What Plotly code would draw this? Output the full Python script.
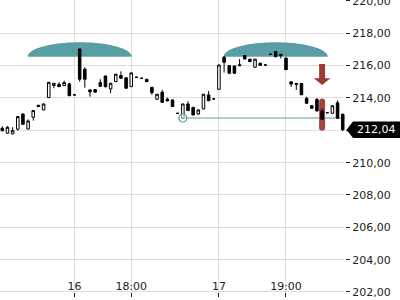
import numpy as np
import plotly.graph_objects as go

# ---------------- data ----------------
idx = list(range(1, 68))
opens = [212.13, 211.82, 211.78, 212.07, 213.01, 212.08, 212.81, 213.55, 213.26, 214.02,
         214.77, 214.85, 214.76, 214.87, 214.19, 217.03, 215.78, 214.50, 214.52, 214.95,
         215.36, 214.56, 215.01, 215.39, 215.25, 214.70, 215.28, 215.22, 215.16, 214.66,
         213.92, 214.36, 213.92, 213.88, 213.05, 212.75, 213.63, 213.42, 213.01, 213.32,
         214.19, 213.94, 214.54, 216.52, 216.00, 215.98, 216.05, 216.62, 216.40, 215.90,
         216.15, 216.04, 216.70, 216.87, 216.70, 216.47, 215.00, 214.90, 214.90, 213.98,
         213.52, 213.90, 213.20, 213.09, 213.05, 213.70, 213.00]
highs = [212.25, 212.26, 212.19, 212.87, 213.03, 212.68, 213.24, 213.56, 213.65, 214.98,
         214.92, 214.97, 215.07, 214.95, 214.20, 217.05, 215.90, 214.52, 214.55, 215.16,
         215.38, 214.92, 215.49, 215.65, 215.28, 215.57, 215.29, 215.23, 215.17, 214.68,
         214.25, 214.50, 214.02, 213.90, 213.06, 213.65, 213.80, 213.44, 213.28, 214.25,
         214.43, 213.95, 216.06, 216.60, 216.02, 216.00, 216.40, 216.65, 216.42, 216.42,
         216.17, 216.05, 216.71, 216.88, 216.72, 216.50, 215.02, 214.92, 214.92, 214.08,
         213.55, 214.00, 213.36, 213.10, 213.54, 213.85, 213.02]
lows = [211.92, 211.80, 211.76, 211.98, 212.35, 212.06, 212.60, 213.45, 213.25, 214.00,
        214.60, 214.69, 214.75, 214.12, 214.18, 215.01, 214.64, 214.08, 214.33, 214.68,
        214.65, 214.29, 214.99, 215.20, 214.58, 214.68, 215.27, 215.21, 215.00, 214.19,
        213.90, 213.72, 213.80, 213.45, 213.04, 212.70, 213.20, 212.93, 212.95, 213.30,
        213.82, 213.93, 214.52, 215.57, 215.50, 215.50, 215.98, 216.40, 216.22, 215.88,
        216.00, 216.03, 216.69, 216.50, 216.45, 215.73, 214.70, 214.50, 214.18, 213.65,
        213.34, 213.15, 212.66, 213.08, 213.03, 212.72, 211.96]
closes = [211.98, 212.19, 211.98, 212.85, 212.37, 212.58, 213.22, 213.47, 213.63, 214.97,
          214.91, 214.70, 214.95, 214.14, 214.19, 215.16, 215.16, 214.38, 214.36, 214.72,
          214.70, 214.91, 215.47, 215.22, 214.60, 215.55, 215.28, 215.22, 215.01, 214.33,
          214.23, 213.73, 213.82, 213.47, 213.05, 213.63, 213.22, 212.95, 213.26, 214.23,
          213.83, 213.94, 216.04, 216.21, 215.53, 215.53, 216.00, 216.41, 216.25, 216.40,
          216.02, 216.04, 216.70, 216.56, 216.62, 215.75, 214.86, 214.85, 214.20, 213.67,
          213.36, 213.20, 212.68, 213.09, 213.52, 212.75, 212.04]

x_tick_idx = [15, 26, 43, 56]
x_tick_text = ["16", "18:00", "17", "19:00"]
y_ticks = [202, 204, 206, 208, 210, 212, 214, 216, 218, 220]

# pattern annotation values (double top)
peak_idx = [16, 54]
dome_base = 216.555
dome_height = 0.89
dome_halfwidth = 10.08
neck_idx = 36
neck_level = 212.76
signal_idx = 63
arrow_levels = [216.10, 215.22, 214.81]
bar_levels = [213.96, 211.98]
last_price = closes[-1]

# ---------------- styles ----------------
TEAL = "#5a9ea5"
RED = "#9c3b36"
GRID = "#dedede"
TXT = "#222222"
FONT = "DejaVu Sans"
x_range = [0.554, 67.44]
y_range = [201.69, 220.06]

fig = go.Figure()

fig.add_trace(go.Candlestick(
    x=idx, open=opens, high=highs, low=lows, close=closes,
    increasing=dict(line=dict(color="black", width=1), fillcolor="white"),
    decreasing=dict(line=dict(color="black", width=1), fillcolor="black"),
    whiskerwidth=0, hoverinfo="skip", showlegend=False,
))

fig.add_trace(go.Scatter(
    x=[neck_idx], y=[neck_level], mode="markers",
    marker=dict(symbol="circle", size=8, color="rgba(255,255,255,0.5)",
                line=dict(color=TEAL, width=1.2)),
    hoverinfo="skip", showlegend=False,
))

shapes = []
# domes
for cx in peak_idx:
    t = np.linspace(np.pi, 0, 80)
    xs = cx + dome_halfwidth * np.cos(t)
    ys = dome_base + dome_height * np.sin(t)
    path = "M " + " L ".join(f"{a:.4f},{b:.4f}" for a, b in zip(xs, ys)) + " Z"
    shapes.append(dict(type="path", path=path, xref="x", yref="y", layer="between",
                       fillcolor=TEAL, line=dict(width=0)))

# neckline
shapes.append(dict(type="line", xref="x", yref="y", x0=neck_idx, x1=x_range[1],
                   y0=neck_level, y1=neck_level, layer="between",
                   line=dict(color=TEAL, width=1)))

# red arrow
sw, hw = 0.58, 1.6
xc = signal_idx
a_top, a_neck, a_tip = arrow_levels
arrow = (f"M {xc-sw},{a_top} L {xc+sw},{a_top} L {xc+sw},{a_neck} L {xc+hw},{a_neck} "
         f"L {xc},{a_tip} L {xc-hw},{a_neck} L {xc-sw},{a_neck} Z")
shapes.append(dict(type="path", path=arrow, xref="x", yref="y", layer="between",
                   fillcolor=RED, line=dict(width=0)))

# red rounded bar
r = 0.186
bt, bb = bar_levels
bar = (f"M {xc-sw},{bt-r} Q {xc-sw},{bt} {xc},{bt} Q {xc+sw},{bt} {xc+sw},{bt-r} "
       f"L {xc+sw},{bb+r} Q {xc+sw},{bb} {xc},{bb} Q {xc-sw},{bb} {xc-sw},{bb+r} Z")
shapes.append(dict(type="path", path=bar, xref="x", yref="y", layer="between",
                   fillcolor=RED, line=dict(width=0), opacity=0.95))

# price tag
PW = 345.0
tip, base, right = 346.5 / PW, 353 / PW, 400 / PW
half = 0.51
tag = (f"M {tip},{last_price} L {base},{last_price+half} L {right},{last_price+half} "
       f"L {right},{last_price-half} L {base},{last_price-half} Z")
shapes.append(dict(type="path", path=tag, xref="paper", yref="y", layer="above",
                   fillcolor="black", line=dict(width=0)))

y_text = [f"{v:.2f}".replace(".", ",") if v != 212 else "" for v in y_ticks]

fig.update_layout(
    width=400, height=300,
    margin=dict(l=0, r=55, t=0, b=3),
    paper_bgcolor="white", plot_bgcolor="white",
    boxgap=0.3,
    shapes=shapes,
    font=dict(family=FONT, size=11, color=TXT),
    annotations=[dict(
        x=(base + right) / 2, xref="paper", y=last_price, yref="y",
        text=f"{last_price:.2f}".replace(".", ","), showarrow=False,
        font=dict(family=FONT, size=11, color="white"),
        xanchor="center", yanchor="middle",
    )],
    xaxis=dict(
        range=x_range, rangeslider=dict(visible=False),
        tickmode="array", tickvals=x_tick_idx, ticktext=x_tick_text,
        ticks="inside", ticklen=4, tickcolor=TXT, ticklabelposition="inside",
        ticklabeloverflow="allow",
        showgrid=True, gridcolor=GRID, gridwidth=1,
        showline=False, zeroline=False, automargin=False,
        tickfont=dict(family=FONT, size=11, color=TXT),
    ),
    yaxis=dict(
        side="right", range=y_range,
        tickmode="array", tickvals=y_ticks, ticktext=y_text,
        ticks="outside", ticklen=4, tickcolor=TXT,
        ticklabeloverflow="allow",
        showgrid=True, gridcolor=GRID, gridwidth=1,
        showline=False, zeroline=False, automargin=False,
        tickfont=dict(family=FONT, size=11, color=TXT),
    ),
)

fig.write_html("out.html")
